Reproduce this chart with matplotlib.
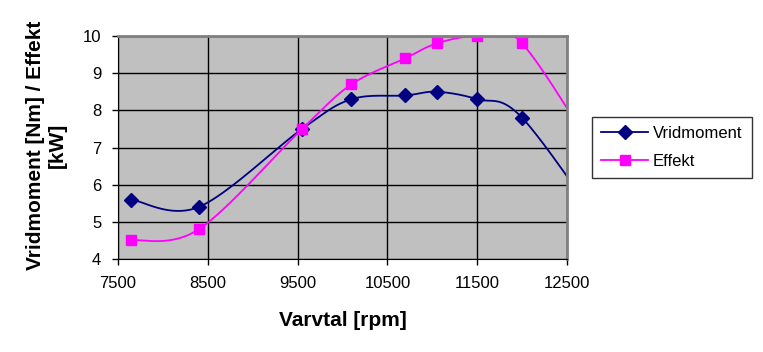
import numpy as np
import matplotlib.pyplot as plt

plt.rcParams['font.family'] = ['Liberation Sans', 'DejaVu Sans']

# measured points (last point lies just past the axis end)
rpm = [7650, 8400, 9550, 10100, 10700, 11050, 11500, 12000, 13000]
vridmoment = [5.6, 5.4, 7.5, 8.3, 8.4, 8.5, 8.3, 7.8, 4.5]
effekt = [4.5, 4.8, 7.5, 8.7, 9.4, 9.8, 10.0, 9.8, 6.1]

x_ticks = [7500, 8500, 9500, 10500, 11500, 12500]
y_ticks = [4, 5, 6, 7, 8, 9, 10]

navy = '#000080'
magenta = '#FF00FF'


def smooth(x, y, sx, sy, n=40):
    '''Excel-like smoothed line: cubic bezier with catmull-rom tangents,
    worked out in screen-ish units so the curve shape matches'''
    p = np.column_stack([np.asarray(x, float) * sx, np.asarray(y, float) * sy])
    pts = []
    t = np.linspace(0, 1, n)[:, None]
    for i in range(len(p) - 1):
        p0 = p[i - 1] if i > 0 else p[i]
        p3 = p[i + 2] if i + 2 < len(p) else p[i + 1]
        c1 = p[i] + (p[i + 1] - p0) / 6
        c2 = p[i + 1] - (p3 - p[i]) / 6
        seg = ((1 - t) ** 3 * p[i] + 3 * (1 - t) ** 2 * t * c1
               + 3 * (1 - t) * t ** 2 * c2 + t ** 3 * p[i + 1])
        pts.append(seg)
    pts = np.vstack(pts)
    return pts[:, 0] / sx, pts[:, 1] / sy


fig = plt.figure(figsize=(7.63, 3.52), dpi=100)
ax = fig.add_axes([118 / 763, 1 - 259 / 352, 449 / 763, 223 / 352])
ax.set_facecolor('#C0C0C0')

sx = 449 / 5000
sy = 223 / 6

xs, ys = smooth(rpm, vridmoment, sx, sy)
ax.plot(xs, ys, color=navy, lw=1.3)
ax.plot(rpm, vridmoment, ls='none', marker='D', ms=7.5, color=navy)
xs, ys = smooth(rpm, effekt, sx, sy)
ax.plot(xs, ys, color=magenta, lw=1.3)
ax.plot(rpm, effekt, ls='none', marker='s', ms=7, color=magenta)

# legend proxies
ax.plot([], [], color=navy, marker='D', ms=7, lw=1.3, label='Vridmoment')
ax.plot([], [], color=magenta, marker='s', ms=7, lw=1.3, label='Effekt')

ax.set_xlim(7500, 12500)
ax.set_ylim(4, 10)
ax.set_xticks(x_ticks)
ax.set_yticks(y_ticks)
ax.grid(True, color='black', lw=1)
ax.set_axisbelow(True)
ax.tick_params(direction='out', length=4, width=1, labelsize=12, pad=8)

for s in ['left', 'bottom']:
    ax.spines[s].set_color('black')
for s in ['top', 'right']:
    ax.spines[s].set_color('#808080')
    ax.spines[s].set_linewidth(2)

ax.set_xlabel('Varvtal [rpm]', fontsize=15, fontweight='bold')
ax.set_ylabel('Vridmoment [Nm] / Effekt\n[kW]', fontsize=15,
              fontweight='bold')
ax.xaxis.set_label_coords(0.5, -0.235)
ax.yaxis.set_label_coords(-0.113, 0.51)

handles, labels = ax.get_legend_handles_labels()
leg = fig.legend(handles[-2:], labels[-2:], loc='upper left',
                 bbox_to_anchor=(592 / 763, 1 - 117 / 352), borderaxespad=0,
                 fontsize=12, frameon=True, fancybox=False,
                 edgecolor='black', handlelength=2.8, handletextpad=0.3,
                 borderpad=0.55, labelspacing=0.75)
leg.get_frame().set_linewidth(1)

fig.savefig('out.png', dpi=100)
